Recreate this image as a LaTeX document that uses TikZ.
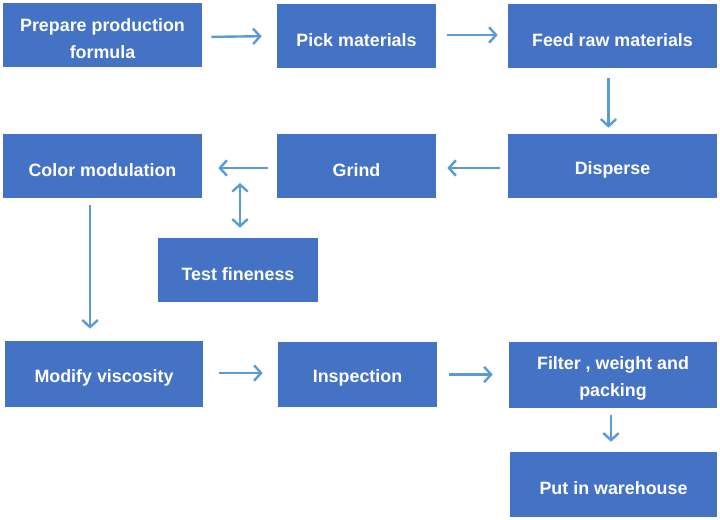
\documentclass[tikz,border=0pt]{standalone}
\usepackage{fontspec}
\setmainfont{Liberation Sans}
\usepackage{xcolor}
\usetikzlibrary{arrows.meta}
\definecolor{boxblue}{HTML}{4472C4}
\definecolor{arrowblue}{HTML}{5B9BD5}
\newcommand{\lowstrut}{\rule{0pt}{14.5pt}}

\begin{document}
\begin{tikzpicture}[x=0.025cm,y=-0.025cm,
		>={Straight Barb[length=5pt,width=11pt,line width=1.7pt]},
		stepbox/.style={fill=boxblue,text=white,font=\fontsize{12.7}{19}\selectfont\bfseries,
			align=center,inner sep=0pt,minimum height=1.6cm},
		flow/.style={->,draw=arrowblue,line width=1.7pt}]
		\useasboundingbox (0,0) rectangle (720,519);
		
		% top row
		\node[stepbox,minimum width=4.975cm] (prep) at (102.5,35) {\lowstrut Prepare production\\formula};
		\node[stepbox,minimum width=3.975cm] (pick) at (356.5,36) {\lowstrut Pick materials};
		\node[stepbox,minimum width=5.225cm] (feed) at (612.5,36) {\lowstrut Feed raw materials};
		
		% middle row
		\node[stepbox,minimum width=5.225cm] (disp) at (612.5,166) {\lowstrut Disperse};
		\node[stepbox,minimum width=3.975cm] (grind) at (356.5,166) {\lowstrut Grind};
		\node[stepbox,minimum width=4.975cm] (color) at (102.5,166) {\lowstrut Color modulation};
		\node[stepbox,minimum width=4cm] (test) at (238,270) {\lowstrut Test fineness};
		
		% bottom rows
		\node[stepbox,minimum width=4.95cm,minimum height=1.65cm] (visc) at (104,374) {\lowstrut Modify viscosity};
		\node[stepbox,minimum width=3.975cm,minimum height=1.625cm] (insp) at (357.5,374.5) {\lowstrut Inspection};
		\node[stepbox,minimum width=5.2cm,minimum height=1.65cm] (pack) at (613,375) {\lowstrut Filter , weight and\\packing};
		\node[stepbox,minimum width=5.175cm,minimum height=1.625cm] (ware) at (613.5,484.5) {\lowstrut Put in warehouse};
		
		\draw[flow,shorten <=0.225cm,shorten >=0.375cm] ([yshift=-0.05cm]prep.east) -- ([yshift=-0.025cm]prep.east -| pick.west);
		\draw[flow,shorten <=0.275cm,shorten >=0.25cm] ([yshift=0.025cm]pick.east) -- ([yshift=0.025cm]feed.west);
		\draw[flow,shorten <=0.25cm,shorten >=0.15cm] ([xshift=-0.1cm]feed.south) -- ([xshift=-0.1cm]disp.north);
		\draw[flow,shorten <=0.2cm,shorten >=0.275cm] ([yshift=-0.05cm]disp.west) -- ([yshift=-0.05cm]grind.east);
		\draw[flow,shorten <=0.225cm,shorten >=0.4cm] ([yshift=-0.05cm]grind.west) -- ([yshift=-0.05cm]color.east);
		
		\coordinate (gap) at (240,183);
		\draw[flow,<->,shorten >=0.25cm] (gap) -- (gap |- test.north);
		
		\draw[flow,shorten <=0.175cm,shorten >=0.3cm] ([xshift=-0.31cm]color.south) -- ([xshift=-0.31cm]color.south |- visc.north);
		\draw[flow,shorten <=0.4cm,shorten >=0.375cm] ([yshift=0.025cm]visc.east) -- ([yshift=0.025cm]visc.east -| insp.west);
		\draw[flow,shorten <=0.3cm,shorten >=0.4cm] (insp.east) -- (insp.east -| pack.west);
		\draw[flow,shorten <=0.175cm,shorten >=0.25cm] ([xshift=-0.05cm]pack.south) -- ([xshift=-0.05cm]pack.south |- ware.north);
		
	\end{tikzpicture}
\end{document}
